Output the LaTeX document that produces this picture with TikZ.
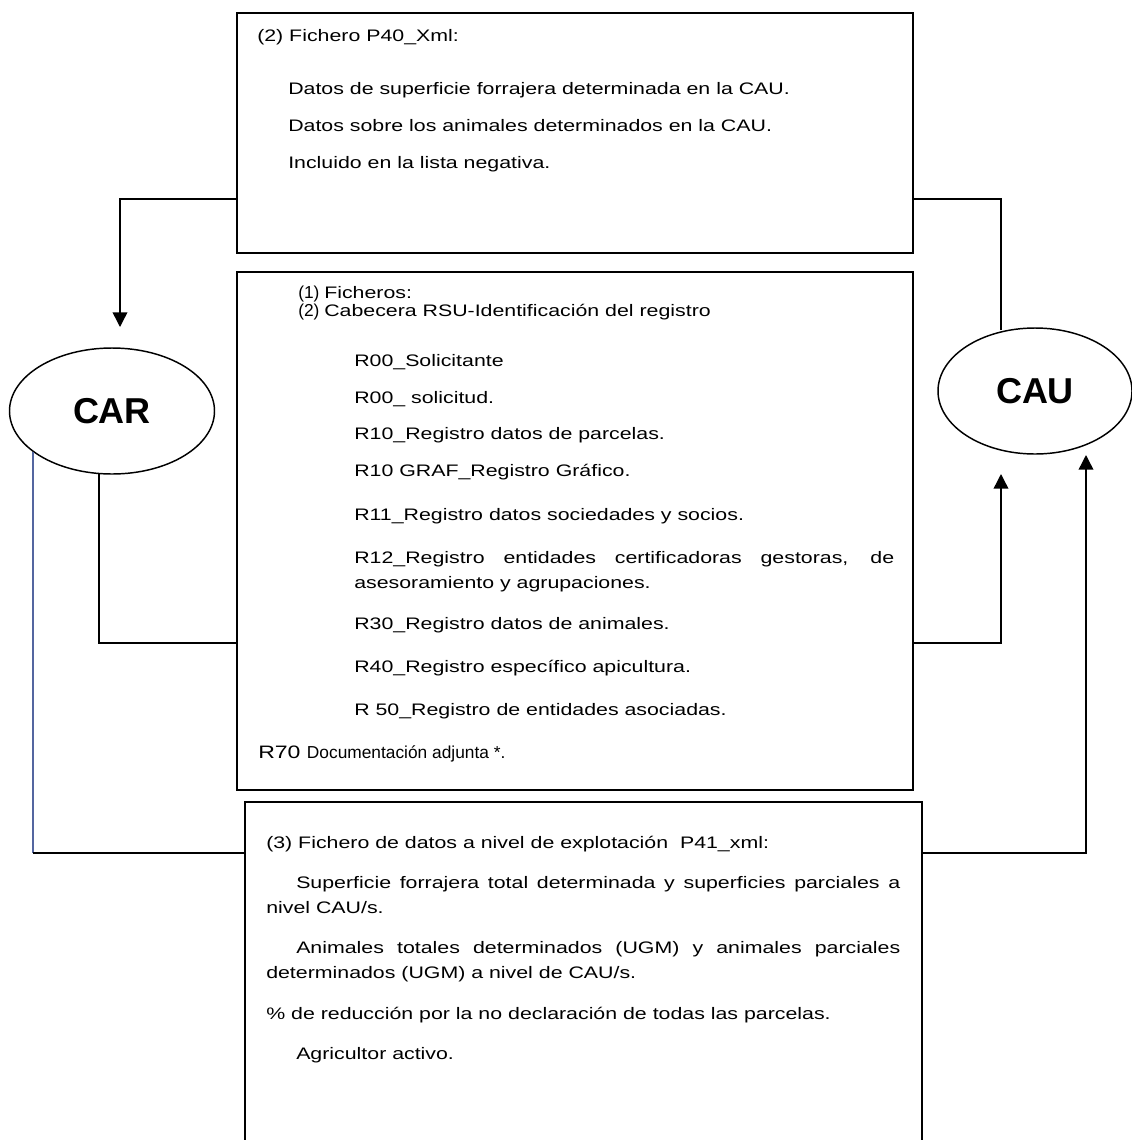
\documentclass[tikz,border=0pt]{standalone}
\usepackage{fontspec}
\setmainfont{Liberation Sans}[FakeStretch=1.28]
\newfontfamily\lblfont{Liberation Sans}
\usetikzlibrary{fit,shapes.geometric,arrows.meta}
\definecolor{slateline}{RGB}{84,102,160}
\begin{document}
\begin{tikzpicture}[x=0.75pt,y=-0.75pt,
  box/.style={draw, line width=1.4pt, inner sep=0pt, rectangle},
  conn/.style={line width=1.1pt},
  arr/.style={conn, -{Triangle[length=11pt,width=11pt]}},
  txt/.style={anchor=base west, inner sep=0pt, font=\fontsize{12.5}{15}\selectfont},
  num/.style={anchor=base west, inner sep=0pt, font=\lblfont\fontsize{13}{15}\selectfont},
  ell/.style={draw, ellipse, line width=1.1pt, inner sep=0pt,
    font=\lblfont\bfseries\fontsize{27}{30}\selectfont},
]
\useasboundingbox (0,0) rectangle (1132,1140);

% boxes
\node[box, fit={(237,13) (913,253)}] (p40) {};
\node[box, fit={(237,272) (913,790)}] (files) {};
\node[box, fit={(245,802) (922,1150)}] (p41) {};

% ellipses
\node[ell, minimum width=153.75pt, minimum height=94.5pt] (car) at (112,411) {CAR};
\node[ell, minimum width=145.5pt, minimum height=94.5pt] (cau) at (1035,391) {CAU};

% helper coordinates
\coordinate (yTop) at (0,199);
\coordinate (yMid) at (0,643);
\coordinate (yBot) at (0,853);
\coordinate (carIn) at (120,327);
\coordinate (cauTopIn) at (1001,330);
\coordinate (carOut) at (99,474);
\coordinate (cauIn1) at (1001,474);
\coordinate (carOut2) at (33,452);
\coordinate (carCorner) at (33,853);
\coordinate (cauIn2) at (1086,455);

% connectors
\draw[arr] (p40.west |- yTop) -| (carIn);
\draw[conn] (p40.east |- yTop) -| (cauTopIn);
\draw[conn] (carOut) |- (files.west |- yMid);
\draw[arr] (files.east |- yMid) -| (cauIn1);
\draw[conn, slateline] (carOut2) -- (carCorner);
\draw[conn] (carCorner) -- (p41.west |- yBot);
\draw[arr] (p41.east |- yBot) -| (cauIn2);

% top box text
\node[txt] (t1) at (257,41) {(2) Fichero P40\_Xml:};
\node[txt] (t2) at (288,94) {Datos de superficie forrajera determinada en la CAU.};
\node[txt] (t3) at (288,131) {Datos sobre los animales determinados en la CAU.};
\node[txt] (t4) at (288,168) {Incluido en la lista negativa.};

% middle box text
\node[num] (m1a) at (298,298) {(1)};
\node[txt] (m1b) at (324,298) {Ficheros:};
\node[num] (m2a) at (298,316) {(2)};
\node[txt] (m2b) at (324,316) {Cabecera RSU-Identificación del registro};
\node[txt] (m3) at (354,366) {R00\_Solicitante};
\node[txt] (m4) at (354,403) {R00\_ solicitud.};
\node[txt] (m5) at (354,439) {R10\_Registro datos de parcelas.};
\node[txt] (m6) at (354,476) {R10 GRAF\_Registro Gráfico.};
\node[txt] (m7) at (354,520) {R11\_Registro datos sociedades y socios.};
\node[txt] (m8) at (354,563) {\makebox[405pt][s]{R12\_Registro entidades certificadoras gestoras, de}};
\node[txt] (m9) at (354,588) {asesoramiento y agrupaciones.};
\node[txt] (m10) at (354,629) {R30\_Registro datos de animales.};
\node[txt] (m11) at (354,672) {R40\_Registro específico apicultura.};
\node[txt] (m12) at (354,715) {R 50\_Registro de entidades asociadas.};
\node[txt] (m13) at (258,758) {{\fontsize{13.5}{16}\selectfont R70 }{\lblfont\fontsize{13}{15}\selectfont Documentación adjunta *.}};

% bottom box text
\node[txt] (b1) at (266,848) {(3) Fichero de datos a nivel de explotación\ \ P41\_xml:};
\node[txt] (b2) at (296,888) {\makebox[453pt][s]{Superficie forrajera total determinada y superficies parciales a}};
\node[txt] (b3) at (266,913) {nivel CAU/s.};
\node[txt] (b4) at (296,953) {\makebox[453pt][s]{Animales totales determinados (UGM) y animales parciales}};
\node[txt] (b5) at (266,978) {determinados (UGM) a nivel de CAU/s.};
\node[txt] (b6) at (266,1019) {\% de reducción por la no declaración de todas las parcelas.};
\node[txt] (b7) at (296,1059) {Agricultor activo.};
\end{tikzpicture}
\end{document}
